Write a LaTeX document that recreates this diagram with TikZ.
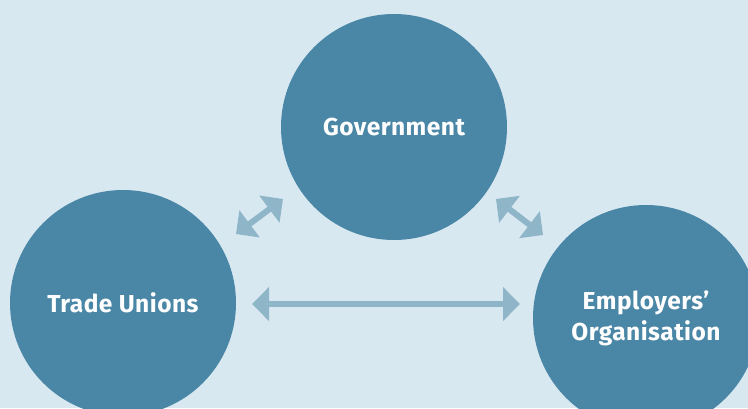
\documentclass[tikz,border=0pt]{standalone}
\usepackage{fontspec}
\setmainfont{Fira Sans}[LetterSpace=2]
\usetikzlibrary{arrows.meta}
\definecolor{bg}{HTML}{D8E8F1}
\definecolor{circ}{HTML}{4A87A6}
\definecolor{arr}{HTML}{8FB5C9}
\tikzset{
  party/.style={circle, fill=circ, minimum size=226pt, inner sep=0pt, text=white, font=\fontsize{24.5}{31}\selectfont\bfseries, align=center},
  link/.style={draw=arr, line width=6pt, {Triangle[length=17pt,width=33pt]}-{Triangle[length=17pt,width=33pt]}}
}
\begin{document}
\begin{tikzpicture}[x=1pt,y=-1pt]
\fill[bg] (0,0) rectangle (748,408);
\useasboundingbox (0,0) rectangle (748,408);
\begin{scope}
\clip (0,0) rectangle (748,408);
\node[party] (gov) at (394,127) {Government};
\node[party] (tu) at (123,303) {Trade Unions};
\node[party] (emp) at (646,318) {Employers'\\Organisation};
\end{scope}
\coordinate (a1) at (236,234);
\coordinate (a2) at (283,199);
\coordinate (b1) at (496,199);
\coordinate (b2) at (543,235);
\coordinate (c1) at (252,304);
\coordinate (c2) at (520,304);
\draw[link] (a1) -- (a2);
\draw[link] (b1) -- (b2);
\draw[link] (c1) -- (c2);
\end{tikzpicture}
\end{document}
